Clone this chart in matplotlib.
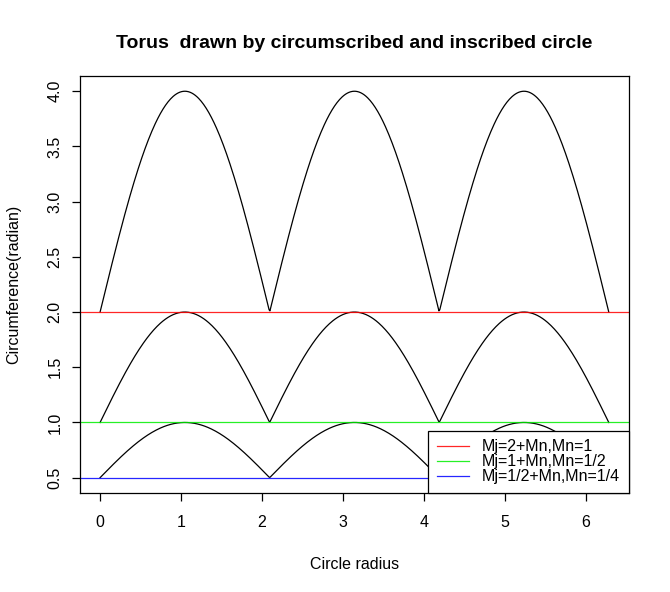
import numpy as np
import matplotlib.pyplot as plt

plt.rcParams['font.family'] = ['Liberation Sans', 'DejaVu Sans']

# curve parameters: base level and arch height for each circle
bases = [2.0, 1.0, 0.5]
heights = [2.0, 1.0, 0.5]
line_colors = ['red', '#00ee00', 'blue']
labels = ['Mj=2+Mn,Mn=1', 'Mj=1+Mn,Mn=1/2', 'Mj=1/2+Mn,Mn=1/4']

t = np.linspace(0, 2 * np.pi, 600)

fig = plt.figure(figsize=(6.7, 5.92), dpi=100)
ax = fig.add_axes([0.119, 0.167, 0.82, 0.705])

for b, h in zip(bases, heights):
    ax.plot(t, b + h * np.abs(np.sin(1.5 * t)), color='black', lw=0.9)

handles = []
for b, c, lab in zip(bases, line_colors, labels):
    hl = ax.axhline(b, color=c, lw=0.9, alpha=0.85, label=lab)
    handles.append(hl)

ax.set_xlim(-0.2513, 2 * np.pi + 0.2513)
ax.set_ylim(0.36, 4.14)
ax.set_xticks(range(0, 7))
ax.set_yticks(np.arange(0.5, 4.01, 0.5))
ax.set_yticklabels(['%.1f' % v for v in np.arange(0.5, 4.01, 0.5)],
                   rotation=90, va='center')
ax.tick_params(direction='out', length=5.5, width=0.9, labelsize=11.5)
ax.tick_params(axis='x', pad=10)
ax.tick_params(axis='y', pad=7)
for s in ax.spines.values():
    s.set_linewidth(0.9)

ax.set_xlabel('Circle radius', fontsize=11.5, labelpad=20)
ax.set_ylabel('Circumference(radian)', fontsize=11.5, labelpad=19)
ax.set_title('Torus  drawn by circumscribed and inscribed circle',
             fontsize=14, fontweight='bold', pad=20)

leg = ax.legend(handles=handles, loc='lower right', fontsize=11.5,
                frameon=True, fancybox=False, framealpha=1,
                borderaxespad=0, handlelength=2.0, handletextpad=0.85,
                labelspacing=0.0, borderpad=0.55)
leg.get_frame().set_edgecolor('black')
leg.get_frame().set_linewidth(0.9)

fig.savefig('out.png', dpi=100)
